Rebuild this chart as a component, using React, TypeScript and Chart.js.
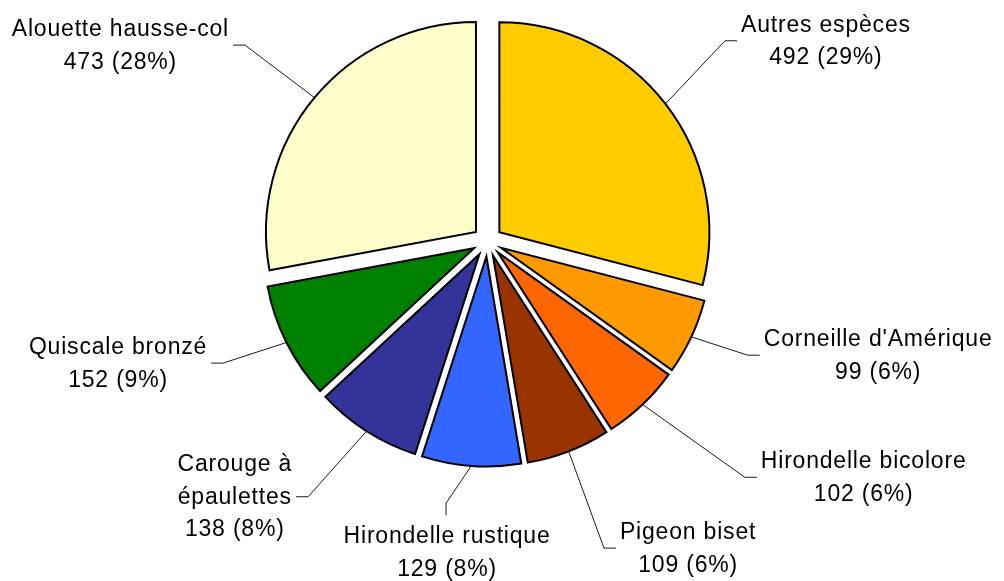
import React, { useEffect, useRef } from 'react';
import { Chart, registerables } from 'chart.js';

Chart.register(...registerables);

// ---- data ----
const categories = [
  'Autres espèces',
  "Corneille d'Amérique",
  'Hirondelle bicolore',
  'Pigeon biset',
  'Hirondelle rustique',
  'Carouge à\népaulettes',
  'Quiscale bronzé',
  'Alouette hausse-col',
];
const counts = [492, 99, 102, 109, 129, 138, 152, 473];
const sliceColors = ['#FFCC00', '#FF9900', '#FF6600', '#993300', '#3366FF', '#333399', '#008000', '#FFFFCC'];

// ---- label layout (leader-line elbow, polar from pie centre: degrees clockwise from 12 o'clock, px) ----
const labelAngles = [49.8, 113.6, 132.5, 159.2, 189.0, 215.1, 245.3, 309.0];
const labelDistances = [311, 284, 349, 328, 265, 312, 291, 312];

const EXPLODE = 15;
const PIE_RADIUS = 210;
const FONT = '23px "Liberation Sans", Arial, sans-serif';
const LINE_H = 32.5;

const total = counts.reduce((a, b) => a + b, 0);

const explodePlugin = {
  id: 'explode',
  beforeDatasetsDraw(chart: any) {
    const { left, right, top, bottom } = chart.chartArea;
    const cx = (left + right) / 2;
    const cy = (top + bottom) / 2;
    const meta = chart.getDatasetMeta(0);
    meta.data.forEach((arc: any) => {
      const mid = (arc.startAngle + arc.endAngle) / 2;
      arc.x = cx + EXPLODE * Math.cos(mid);
      arc.y = cy + EXPLODE * Math.sin(mid);
    });
  },
};

const labelPlugin = {
  id: 'outLabels',
  afterDatasetsDraw(chart: any) {
    const ctx: CanvasRenderingContext2D = chart.ctx;
    const { left, right, top, bottom } = chart.chartArea;
    const cx = (left + right) / 2;
    const cy = (top + bottom) / 2;
    const meta = chart.getDatasetMeta(0);
    ctx.save();
    ctx.font = FONT;
    try { (ctx as any).letterSpacing = '0.8px'; } catch (e) { /* ignore */ }
    meta.data.forEach((arc: any, i: number) => {
      const mid = (arc.startAngle + arc.endAngle) / 2;
      const sx = arc.x + arc.outerRadius * Math.cos(mid);
      const sy = arc.y + arc.outerRadius * Math.sin(mid);
      const la = labelAngles[i];
      const a = ((la - 90) * Math.PI) / 180;
      const ex = cx + labelDistances[i] * Math.cos(a);
      const ey = cy + labelDistances[i] * Math.sin(a);
      const v = counts[i];
      const lines = [...categories[i].split('\n'), `${v} (${Math.round((v / total) * 100)}%)`];
      const widths = lines.map((l) => ctx.measureText(l).width);
      const blockW = Math.max(...widths);
      const n = lines.length;

      let tx: number;
      let centers: number[];
      ctx.strokeStyle = '#1a1a1a';
      ctx.lineWidth = 1;
      ctx.beginPath();
      ctx.moveTo(sx, sy);
      ctx.lineTo(ex, ey);
      if (Math.abs(la - 180) < 20) {
        ctx.lineTo(ex, ey + 12);
        tx = ex + 1;
        centers = lines.map((_, k) => ey + 12 + 20 + k * LINE_H);
      } else if (la < 180) {
        ctx.lineTo(ex + 12, ey);
        tx = ex + 16 + blockW / 2;
        centers = lines.map((_, k) => ey - 1 + (k - (n - 1) / 2) * LINE_H);
      } else {
        ctx.lineTo(ex - 12, ey);
        tx = ex - 16 - blockW / 2;
        centers = lines.map((_, k) => ey - 1 + (k - (n - 1) / 2) * LINE_H);
      }
      ctx.stroke();

      ctx.fillStyle = '#000';
      ctx.textAlign = 'center';
      ctx.textBaseline = 'alphabetic';
      lines.forEach((l, k) => ctx.fillText(l, tx, centers[k] + 8.2));
    });
    ctx.restore();
  },
};

export default function App() {
  const ref = useRef<HTMLCanvasElement>(null);
  useEffect(() => {
    const chart = new Chart(ref.current as HTMLCanvasElement, {
      type: 'pie',
      data: {
        labels: categories,
        datasets: [
          {
            data: counts,
            backgroundColor: sliceColors,
            borderColor: '#000000',
            borderWidth: 2,
            borderJoinStyle: 'miter',
            radius: PIE_RADIUS,
          } as any,
        ],
      },
      options: {
        responsive: false,
        animation: false,
        events: [],
        radius: PIE_RADIUS,
        layout: { padding: { left: 0, right: 29, top: 0, bottom: 98 } },
        plugins: { legend: { display: false }, tooltip: { enabled: false } },
      } as any,
      plugins: [explodePlugin, labelPlugin],
    });
    return () => chart.destroy();
  }, []);
  return (
    <div style={{ position: 'fixed', left: 0, top: 0, width: 1004, height: 581, background: '#ffffff' }}>
      <canvas ref={ref} width={1004} height={581} style={{ width: 1004, height: 581, display: 'block' }} />
    </div>
  );
}
